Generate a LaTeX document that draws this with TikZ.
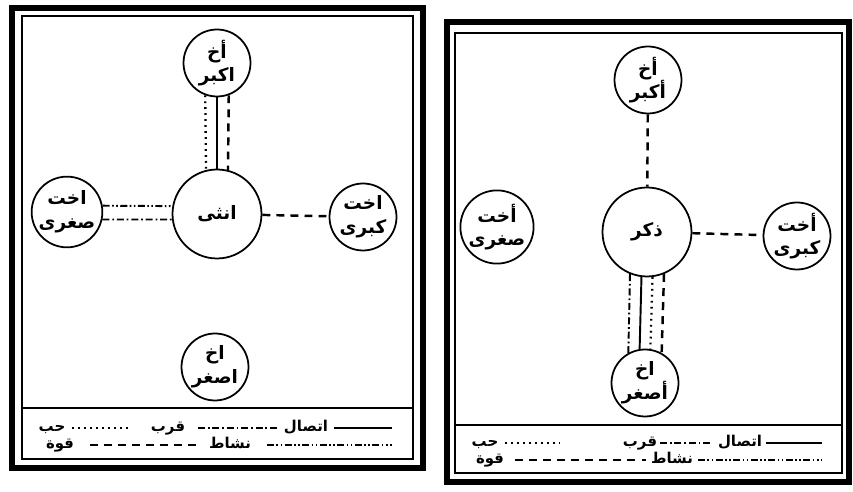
\documentclass[tikz,border=0pt]{standalone}
\usepackage{fontspec}
\newfontfamily\arabicfont[Script=Arabic]{DejaVu Sans}
\TeXXeTstate=1
\newcommand{\artxt}[1]{\beginR #1\endR}
\begin{document}
\begin{tikzpicture}[x=0.02cm, y=-0.02cm,
      frm/.style={line width=3.4pt},
      inr/.style={line width=0.9pt},
      prs/.style={draw, circle, line width=1pt, minimum size=1.34cm, inner sep=0pt, align=center,
        font=\arabicfont\bfseries\fontsize{10.5}{13.5}\selectfont},
      ctr/.style={prs, minimum size=1.78cm},
      ittisal/.style={line width=1.1pt},
      qurb/.style={line width=1.1pt, dash pattern=on 4pt off 1.6pt on 1pt off 1.6pt},
      hubb/.style={line width=1.3pt, dash pattern=on 1pt off 2.4pt},
      nashat/.style={line width=1.1pt, dash pattern=on 4pt off 1.4pt on 0.9pt off 1.4pt on 0.9pt off 1.4pt},
      quwwa/.style={line width=1.4pt, dash pattern=on 4.5pt off 3.5pt},
      key/.style={font=\arabicfont\bfseries\fontsize{8.5}{10}\selectfont, inner sep=1pt, anchor=base, yshift=-2.2pt}]
    \useasboundingbox (0,0) rectangle (853,492);
    % left panel: female
    \draw[frm] (12,8) rectangle (423,468);
    \draw[inr] (22,16) rectangle (413,459);
    \draw[inr] (22,408) -- (413,408);
    \node[prs] (akb) at (217,63) {\artxt{أخ}\\\artxt{اكبر}};
    \node[ctr] (unt) at (217,214) {\artxt{انثى}};
    \node[prs] (sgr) at (67,212) {\artxt{اخت}\\\artxt{صغرى}};
    \node[prs] (kbr) at (363,217) {\artxt{اخت}\\\artxt{كبرى}};
    \node[prs] (asg) at (215,367) {\artxt{اخ}\\\artxt{اصغر}};
    \draw[hubb] (akb.250) -- (unt.104);
    \draw[ittisal] (akb.south) -- (unt.north);
    \draw[quwwa] (akb.290) -- (unt.76);
    \draw[nashat] (sgr.10) -- (unt.170);
    \draw[qurb] (sgr.-12) -- (unt.187);
    \draw[quwwa] (unt) -- (kbr);
    \node[key] at (306,428) {\artxt{اتصال}};
    \draw[ittisal] (334,428) -- (392,428);
    \node[key] at (168,428) {\artxt{قرب}};
    \draw[qurb] (198,428) -- (278,428);
    \node[key] at (52,428) {\artxt{حب}};
    \draw[hubb] (72,428) -- (130,428);
    \node[key] at (230,445) {\artxt{نشاط}};
    \draw[nashat] (267,445) -- (392,445);
    \node[key] at (60,445) {\artxt{قوة}};
    \draw[quwwa] (90,445) -- (197,445);
    % right panel: male
    \draw[frm] (447,22) rectangle (849,482);
    \draw[inr] (455,33) rectangle (842,473);
    \draw[inr] (455,425) -- (842,425);
    \node[prs] (akb2) at (648,80) {\artxt{أخ}\\\artxt{أكبر}};
    \node[ctr] (dhk) at (647,232) {\artxt{ذكر}};
    \node[prs] (sgr2) at (497,227) {\artxt{أخت}\\\artxt{صغرى}};
    \node[prs] (kbr2) at (797,236) {\artxt{أخت}\\\artxt{كبرى}};
    \node[prs] (asg2) at (645,383) {\artxt{اخ}\\\artxt{أصغر}};
    \draw[quwwa] (akb2) -- (dhk);
    \draw[quwwa] (dhk) -- (kbr2);
    \draw[qurb] (dhk.248) -- (asg2.119);
    \draw[ittisal] (dhk.263) -- (asg2.99);
    \draw[hubb] (dhk.277) -- (asg2.81);
    \draw[quwwa] (dhk.292) -- (asg2.61);
    \node[key] at (740,443) {\artxt{اتصال}};
    \draw[ittisal] (766,443) -- (822,443);
    \node[key] at (640,443) {\artxt{قرب}};
    \draw[qurb] (660,443) -- (712,443);
    \node[key] at (485,443) {\artxt{حب}};
    \draw[hubb] (505,443) -- (560,443);
    \node[key] at (672,460) {\artxt{نشاط}};
    \draw[nashat] (698,460) -- (822,460);
    \node[key] at (490,460) {\artxt{قوة}};
    \draw[quwwa] (515,460) -- (646,460);
  \end{tikzpicture}
\end{document}
